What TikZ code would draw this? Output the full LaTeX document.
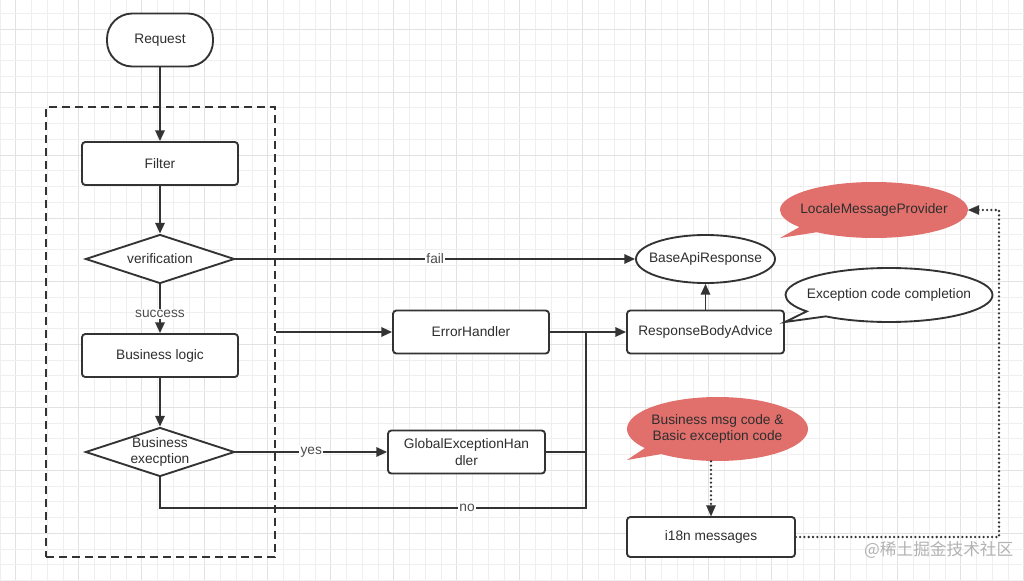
\documentclass[tikz,border=0pt]{standalone}
\usepackage{fontspec}
\setmainfont{Liberation Sans}
\newfontfamily\cjk{Noto Sans CJK SC}
\usetikzlibrary{arrows.meta,shapes.geometric,shapes.callouts}
\definecolor{txt}{HTML}{2E2E2E}
\definecolor{ln}{HTML}{333333}
\definecolor{redc}{RGB}{225,112,108}
\definecolor{gmin}{HTML}{EFEFEF}
\definecolor{gmaj}{HTML}{E2E2E2}
\newcommand{\nb}[1]{\makebox[60pt]{#1}}
\begin{document}
\begin{tikzpicture}[x=0.75pt,y=-0.75pt,
  every node/.style={text=txt,font=\fontsize{10.3}{12.5}\selectfont},
  box/.style={draw=ln,line width=1.4pt,rounded corners=2.5pt,fill=white,
    minimum width=117pt,minimum height=32.25pt,inner sep=0pt,align=center},
  dec/.style={draw=ln,line width=1.4pt,diamond,fill=white,aspect=3.04,
    minimum width=111.75pt,minimum height=36.75pt,inner sep=0pt,align=center},
  conn/.style={draw=ln,line width=1.4pt},
  tip/.style={-{Triangle[width=7pt,length=8pt]}},
  arr/.style={conn,tip},
  dots/.style={draw=ln,line width=1.9pt,line cap=round,dash pattern=on 0pt off 3.2pt},
  lbl/.style={fill=white,inner sep=1pt,text=txt!85},
  redcall/.style={ellipse callout,fill=redc,draw=none,inner sep=0pt,align=center}
]
\useasboundingbox (0,0) rectangle (1024,581);
\fill[white] (0,0) rectangle (1024,581);
% grid
\foreach \i in {0,...,65}{%
  \pgfmathtruncatemacro\m{mod(\i,4)}%
  \ifnum\m=1 \draw[gmaj,line width=0.75pt] ({\i*15.75},0) -- ({\i*15.75},581);
  \else \draw[gmin,line width=0.75pt] ({\i*15.75},0) -- ({\i*15.75},581); \fi}
\foreach \j in {0,...,38}{%
  \pgfmathtruncatemacro\m{mod(\j,4)}%
  \ifnum\m=2 \draw[gmaj,line width=0.75pt] (0,{\j*15.75-2.25}) -- (1024,{\j*15.75-2.25});
  \else \draw[gmin,line width=0.75pt] (0,{\j*15.75-2.25}) -- (1024,{\j*15.75-2.25}); \fi}

% group
\node (grp) [draw=ln,line width=1.4pt,dash pattern=on 6pt off 3.75pt,
  minimum width=171.75pt,minimum height=337.5pt,inner sep=0pt] at (160.5,332) {};

% nodes
\node (req) [box,rounded corners=19pt,minimum width=79.5pt,minimum height=39.75pt] at (160,40) {Request};
\node (filter) [box] at (160,163.5) {Filter};
\node (verif) [dec] at (160,259) {verification};
\node (blogic) [box] at (160,355.5) {Business logic};
\node (bexc) [dec] at (160,452) {Business\\execption};
\node (errh) [box] at (471,332) {ErrorHandler};
\node (geh) [box,minimum width=117.75pt] at (466.5,452) {GlobalExceptionHan\\dler};
\node (rba) [box,minimum width=117.75pt] at (705.5,332) {ResponseBodyAdvice};
\node (bar) [draw=ln,line width=1.4pt,ellipse,fill=white,minimum width=104.25pt,minimum height=36pt,inner sep=0pt] at (705.5,259) {\nb{BaseApiResponse}};
\node (i18n) [box,minimum width=126pt,minimum height=30pt] at (711,537) {i18n messages};

\node (ecc) [ellipse callout,draw=ln,line width=1.4pt,fill=white,inner sep=0pt,
  minimum width=155.25pt,minimum height=40.5pt,
  callout absolute pointer={(785,322)}] at (889,295) {\nb{Exception code completion}};
\node (lmp) [redcall,minimum width=141pt,minimum height=42pt,
  callout absolute pointer={(780,238)}] at (874,210) {\nb{LocaleMessageProvider}};
\node (bmc) [redcall,minimum width=135.75pt,minimum height=48pt,
  callout absolute pointer={(627,460)}] at (717.5,429) {\nb{Business msg code \&}\\\nb{Basic exception code}};

\coordinate (j) at (586,332);
\coordinate (jb) at (586,508);
\coordinate (nb) at (160,508);
\coordinate (rt) at (999,537);
\coordinate (rtop) at (999,210);

% connectors
\draw[arr] (req.south) -- (filter.north);
\draw[arr] (filter.south) -- (verif.north);
\draw[arr] (verif.south) -- (blogic.north) node[lbl,pos=0.6] {success};
\draw[arr] (blogic.south) -- (bexc.north);
\draw[arr] (verif.east) -- (bar.west) node[lbl,midway] {fail};
\draw[arr] (grp.east) -- (errh.west);
\draw[arr] (errh.east) -- (rba.west);
\draw[arr] (bexc.east) -- (geh.west) node[lbl,midway] {yes};
\draw[conn] (geh.east) -- (geh.east -| j);
\draw[conn,line join=miter] (bexc.south) -- (nb) -- (jb) -- (j);
\node[lbl] at (467,508) {no};
\draw[arr] (rba.north) -- (bar.south);
\draw[dots] (i18n.north |- bmc.south) -- ([yshift=6pt]i18n.north);
\draw[draw=ln,line width=0.1pt,fill=ln] (i18n.north) -- ++(-3.5pt,8pt) -- ++(7pt,0) -- cycle;
\draw[dots] (i18n.east) -- (rt) -- (rtop) -- ([xshift=6pt]lmp.east);
\draw[draw=ln,line width=0.1pt,fill=ln] (lmp.east) -- ++(8pt,3.5pt) -- ++(0,-7pt) -- cycle;

% watermark
\node[text=gray!60,font=\cjk\fontsize{12.5}{14}\selectfont,anchor=east] (wm) at (1018,550) {@稀土掘金技术社区};
\end{tikzpicture}
\end{document}
